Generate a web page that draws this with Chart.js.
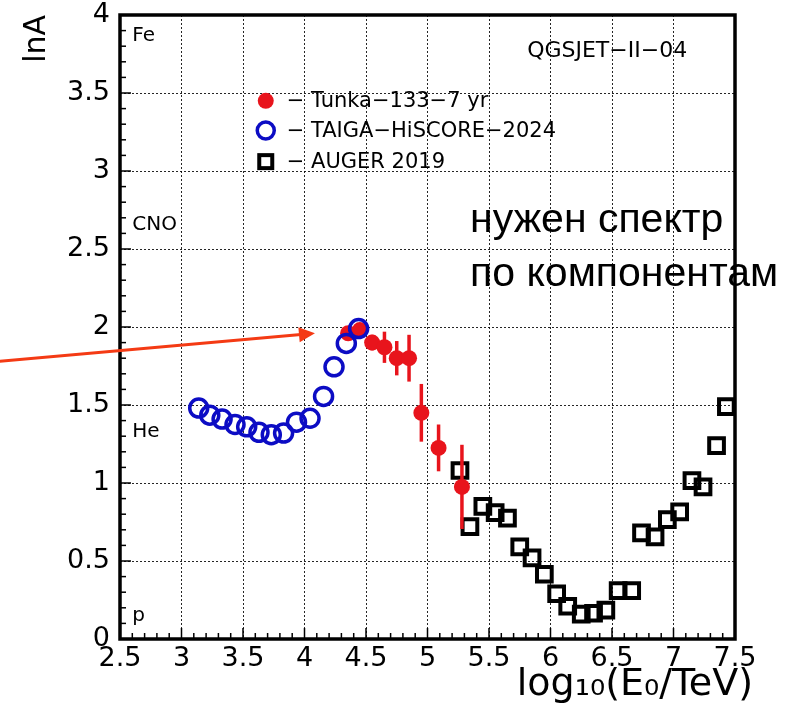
<!DOCTYPE html>
<html>
<head>
<meta charset="utf-8">
<title>lnA vs log10(E0/TeV)</title>
<script src="https://cdn.jsdelivr.net/npm/chart.js@4.4.1/dist/chart.umd.min.js"></script>
<style>
  html, body { margin: 0; padding: 0; background: #fff; }
  canvas { display: block; }
</style>
</head>
<body>
<canvas id="myChart" width="799" height="716"></canvas>
<script>
// TAIGA-HiSCORE 2024 (open blue circles)
const taigaE   = [3.14, 3.23, 3.33, 3.435, 3.53, 3.63, 3.73, 3.83, 3.935, 4.045, 4.155, 4.24, 4.34, 4.44];
const taigaLnA = [1.48, 1.435, 1.41, 1.375, 1.36, 1.325, 1.31, 1.32, 1.39, 1.415, 1.555, 1.745, 1.895, 1.99];

// Tunka-133, 7 yr (red dots with errors)
const tunkaE   = [4.355, 4.45, 4.55, 4.65, 4.75, 4.85, 4.95, 5.09, 5.28];
const tunkaLnA = [1.96, 1.98, 1.90, 1.87, 1.80, 1.80, 1.45, 1.225, 0.975];
const tunkaErr = [0.03, 0.03, 0.05, 0.10, 0.11, 0.15, 0.185, 0.15, 0.27];

// AUGER 2019 (open black squares)
const augerE   = [5.264, 5.345, 5.45, 5.55, 5.65, 5.75, 5.85, 5.95, 6.05, 6.14, 6.25, 6.35,
                  6.45, 6.55, 6.66, 6.74, 6.85, 6.95, 7.05, 7.15, 7.24, 7.35, 7.43];
const augerLnA = [1.08, 0.72, 0.85, 0.81, 0.775, 0.59, 0.52, 0.415, 0.29, 0.21, 0.16, 0.165,
                  0.185, 0.31, 0.31, 0.68, 0.655, 0.765, 0.815, 1.015, 0.975, 1.24, 1.49];

// axes
const xTicks = [2.5, 3, 3.5, 4, 4.5, 5, 5.5, 6, 6.5, 7, 7.5];
const yTicks = [0, 0.5, 1, 1.5, 2, 2.5, 3, 3.5, 4];

// nuclei marks on the left side
const massNames = ["Fe", "CNO", "He", "p"];
const massLnA   = [3.835, 2.62, 1.295, 0.115];

const legendNames = ["\u2212 Tunka\u2212133\u22127 yr", "\u2212 TAIGA\u2212HiSCORE\u22122024", "\u2212 AUGER 2019"];

const red = "#e8141c";
const blue = "#0c0cc4";
const tickFont = { family: "DejaVu Sans", size: 27 };

function toXY(xs, ys) {
  return xs.map((x, i) => ({ x: x, y: ys[i] }));
}

const rootStyle = {
  id: "rootStyle",
  afterDatasetDraw(chart, args) {
    // error bars go on top of the squares but under the red dots
    if (args.index !== 2) return;
    const ctx = chart.ctx;
    const sx = chart.scales.x, sy = chart.scales.y;
    ctx.save();
    ctx.strokeStyle = red;
    ctx.lineWidth = 3.5;
    for (let i = 0; i < tunkaE.length; i++) {
      const x = sx.getPixelForValue(tunkaE[i]);
      ctx.beginPath();
      ctx.moveTo(x, sy.getPixelForValue(tunkaLnA[i] - tunkaErr[i]));
      ctx.lineTo(x, sy.getPixelForValue(tunkaLnA[i] + tunkaErr[i]));
      ctx.stroke();
    }
    ctx.restore();
  },
  afterDraw(chart) {
    const ctx = chart.ctx;
    const a = chart.chartArea;
    const sx = chart.scales.x, sy = chart.scales.y;
    ctx.save();

    // small ticks inside the frame
    ctx.strokeStyle = "#000";
    ctx.lineWidth = 1.5;
    for (let k = 0; k <= 50; k++) {
      const len = k % 5 === 0 ? 11 : 6;
      const x = sx.getPixelForValue(2.5 + k * 0.1);
      ctx.beginPath(); ctx.moveTo(x, a.bottom); ctx.lineTo(x, a.bottom - len); ctx.stroke();
    }
    for (let k = 0; k <= 40; k++) {
      const len = k % 5 === 0 ? 11 : 6;
      const y = sy.getPixelForValue(k * 0.1);
      ctx.beginPath(); ctx.moveTo(a.left, y); ctx.lineTo(a.left + len, y); ctx.stroke();
    }

    // frame
    ctx.lineWidth = 3.5;
    ctx.strokeRect(a.left, a.top, a.right - a.left, a.bottom - a.top);

    // nuclei labels
    ctx.fillStyle = "#000";
    ctx.font = "20px 'DejaVu Sans'";
    ctx.textAlign = "left";
    ctx.textBaseline = "alphabetic";
    massNames.forEach((n, i) => {
      ctx.fillText(n, sx.getPixelForValue(2.6), sy.getPixelForValue(massLnA[i]));
    });

    // model name
    ctx.font = "22px 'DejaVu Sans'";
    ctx.fillText("QGSJET\u2212II\u221204", sx.getPixelForValue(5.81), sy.getPixelForValue(3.73));

    // legend
    const lx = sx.getPixelForValue(3.685);
    const ly = [3.45, 3.26, 3.06].map(v => sy.getPixelForValue(v));
    ctx.fillStyle = red;
    ctx.beginPath(); ctx.arc(lx, ly[0], 8, 0, Math.PI * 2); ctx.fill();
    ctx.strokeStyle = blue; ctx.lineWidth = 3.5;
    ctx.beginPath(); ctx.arc(lx, ly[1], 8.5, 0, Math.PI * 2); ctx.stroke();
    ctx.strokeStyle = "#000"; ctx.lineWidth = 4;
    ctx.strokeRect(lx - 6.5, ly[2] - 6.5, 13, 13);
    ctx.fillStyle = "#000";
    ctx.font = "21px 'DejaVu Sans'";
    ctx.textBaseline = "middle";
    legendNames.forEach((t, i) => ctx.fillText(t, lx + 21, ly[i] + 1));

    // note
    ctx.font = "41px 'Liberation Sans', Arial, sans-serif";
    ctx.textBaseline = "alphabetic";
    ctx.fillText("нужен спектр", sx.getPixelForValue(5.346), sy.getPixelForValue(2.61));
    ctx.fillText("по компонентам", sx.getPixelForValue(5.346), sy.getPixelForValue(2.263));

    // arrow
    const x0 = sx.getPixelForValue(1.52), y0 = sy.getPixelForValue(1.78);
    const x1 = sx.getPixelForValue(4.085), y1 = sy.getPixelForValue(1.96);
    const ang = Math.atan2(y1 - y0, x1 - x0);
    ctx.strokeStyle = "#f43a14"; ctx.fillStyle = "#f43a14";
    ctx.lineWidth = 3;
    ctx.beginPath();
    ctx.moveTo(x0, y0);
    ctx.lineTo(x1 - 14 * Math.cos(ang), y1 - 14 * Math.sin(ang));
    ctx.stroke();
    ctx.beginPath();
    ctx.moveTo(x1, y1);
    ctx.lineTo(x1 - 16 * Math.cos(ang) + 7.5 * Math.sin(ang), y1 - 16 * Math.sin(ang) - 7.5 * Math.cos(ang));
    ctx.lineTo(x1 - 16 * Math.cos(ang) - 7.5 * Math.sin(ang), y1 - 16 * Math.sin(ang) + 7.5 * Math.cos(ang));
    ctx.closePath();
    ctx.fill();

    // axis titles
    ctx.fillStyle = "#000";
    ctx.font = "38px 'DejaVu Sans'";
    ctx.textAlign = "right";
    ctx.fillText("log\u2081\u2080(E\u2080/TeV)", 753, 695);
    ctx.save();
    ctx.translate(45, 15);
    ctx.rotate(-Math.PI / 2);
    ctx.font = "30px 'DejaVu Sans'";
    ctx.fillText("lnA", 0, 0);
    ctx.restore();

    ctx.restore();
  }
};

const ctx = document.getElementById("myChart").getContext("2d");
const myChart = new Chart(ctx, {
  type: "scatter",
  data: {
    datasets: [
      {
        label: "TAIGA-HiSCORE-2024",
        data: toXY(taigaE, taigaLnA),
        pointStyle: "circle",
        pointRadius: 9,
        borderWidth: 3.5,
        borderColor: blue,
        backgroundColor: "rgba(0,0,0,0)",
      },
      {
        label: "Tunka-133-7 yr",
        data: toXY(tunkaE, tunkaLnA),
        pointStyle: "circle",
        pointRadius: 8,
        borderWidth: 0,
        borderColor: red,
        backgroundColor: red,
      },
      {
        label: "AUGER 2019",
        data: toXY(augerE, augerLnA),
        pointStyle: "rect",
        pointRadius: 10.4,
        borderWidth: 4,
        borderColor: "#000",
        backgroundColor: "rgba(0,0,0,0)",
      },
    ],
  },
  options: {
    responsive: false,
    animation: false,
    layout: { padding: { left: 0, top: 15, right: 64, bottom: 0 } },
    plugins: { legend: { display: false }, tooltip: { enabled: false } },
    scales: {
      x: {
        type: "linear",
        min: 2.5,
        max: 7.5,
        afterBuildTicks: (s) => { s.ticks = xTicks.map(v => ({ value: v })); },
        afterFit: (s) => { s.height = 77; s.paddingLeft = 0; s.paddingRight = 0; },
        ticks: { font: tickFont, color: "#000", padding: 4, maxRotation: 0, autoSkip: false,
                 callback: (v) => String(v) },
        grid: { color: "rgba(0,0,0,0.85)", lineWidth: 1, drawTicks: false },
        border: { display: false, dash: [2, 2] },
      },
      y: {
        type: "linear",
        min: 0,
        max: 4,
        afterBuildTicks: (s) => { s.ticks = yTicks.map(v => ({ value: v })); },
        afterFit: (s) => { s.width = 120; s.paddingTop = 0; s.paddingBottom = 0; },
        ticks: { font: tickFont, color: "#000", padding: 10, autoSkip: false,
                 callback: (v) => String(v) },
        grid: { color: "rgba(0,0,0,0.85)", lineWidth: 1, drawTicks: false },
        border: { display: false, dash: [2, 2] },
      },
    },
  },
  plugins: [rootStyle],
});
</script>
</body>
</html>
